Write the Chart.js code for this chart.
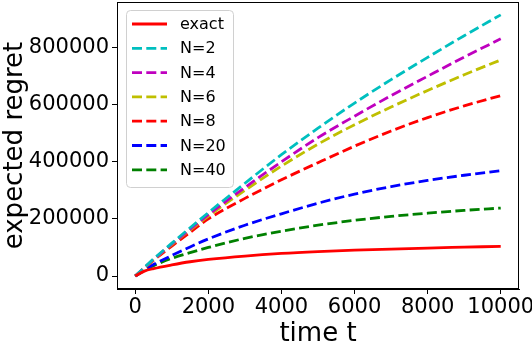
<!DOCTYPE html>
<html>
<head>
<meta charset="utf-8">
<script src="https://cdn.jsdelivr.net/npm/chart.js@4"></script>
<style>
  html, body { margin: 0; padding: 0; background: #fff; }
  canvas { display: block; }
</style>
</head>
<body>
<canvas id="chart" width="532" height="346"></canvas>
<script>
// ---- data ----
const times  = [0, 250, 500, 1000, 1500, 2000, 3000, 4000, 5000, 6000, 7000, 8000, 9000, 10000];
const exact  = [0, 17000, 26000, 39000, 50000, 58000, 70000, 79000, 85500, 90500, 94500, 98000, 101000, 104000];
const regN2  = [0, 30000, 60000, 115000, 169000, 222000, 325000, 425000, 518000, 606000, 688000, 766000, 842000, 915000];
const regN4  = [0, 29500, 58000, 112000, 164000, 215000, 310000, 400000, 485000, 560000, 632000, 700000, 767000, 831000];
const regN6  = [0, 29000, 57000, 110000, 161000, 210000, 300000, 385000, 462000, 530000, 592000, 650000, 705000, 757000];
const regN8  = [0, 28000, 55000, 105000, 153000, 200000, 272000, 337000, 397000, 455000, 508000, 555000, 596000, 632000];
const regN20 = [0, 21000, 40000, 72000, 102000, 130000, 178000, 218000, 255000, 287000, 313000, 335000, 353000, 369000];
const regN40 = [0, 19000, 36000, 62000, 82000, 100000, 132000, 157000, 178000, 195000, 209000, 220000, 230000, 238000];
const xTicks = [0, 2000, 4000, 6000, 8000, 10000];
const yTicks = [0, 200000, 400000, 600000, 800000];

const FONT = "'DejaVu Sans', sans-serif";

function series(label, values, color, dashed) {
  return {
    label,
    data: times.map((t, i) => ({ x: t, y: values[i] })),
    borderColor: color,
    backgroundColor: color,
    borderWidth: 2.8,
    borderDash: dashed ? [10, 4.3] : [],
    pointRadius: 0,
    fill: false,
    cubicInterpolationMode: 'monotone'
  };
}

// ---- legend boxed inside the axes, matplotlib style ----
const boxLegend = {
  id: 'boxLegend',
  afterDraw(chart) {
    const { ctx, chartArea } = chart;
    const x = chartArea.left + 9, y = chartArea.top + 8;
    const w = 107, h = 177, r = 4;
    ctx.save();
    ctx.beginPath();
    ctx.roundRect(x + 0.5, y + 0.5, w, h, r);
    ctx.fillStyle = 'rgba(255,255,255,0.8)';
    ctx.fill();
    ctx.strokeStyle = '#d0d0d0';
    ctx.lineWidth = 1;
    ctx.stroke();
    ctx.font = '16px ' + FONT;
    ctx.textBaseline = 'middle';
    chart.data.datasets.forEach((ds, i) => {
      const cy = y + 14 + i * 24.3;
      ctx.beginPath();
      ctx.setLineDash(ds.borderDash);
      ctx.strokeStyle = ds.borderColor;
      ctx.lineWidth = ds.borderWidth;
      ctx.moveTo(x + 6, cy);
      ctx.lineTo(x + 41, cy);
      ctx.stroke();
      ctx.setLineDash([]);
      ctx.fillStyle = '#000';
      ctx.fillText(ds.label, x + 54, cy + 1);
    });
    ctx.restore();
  }
};

// ---- full frame round the plot ----
const frame = {
  id: 'frame',
  afterDatasetsDraw(chart) {
    const { ctx, chartArea: a } = chart;
    ctx.save();
    ctx.strokeStyle = '#000';
    ctx.lineWidth = 1;
    ctx.strokeRect(Math.round(a.left) + 0.5, Math.round(a.top) + 0.5,
                   Math.round(a.right - a.left) - 1, Math.round(a.bottom - a.top) - 1);
    ctx.restore();
  }
};

new Chart(document.getElementById('chart'), {
  type: 'line',
  data: {
    datasets: [
      series('exact', exact, '#ff0000', false),
      series('N=2', regN2, '#00bfbf', true),
      series('N=4', regN4, '#bf00bf', true),
      series('N=6', regN6, '#bfbf00', true),
      series('N=8', regN8, '#ff0000', true),
      series('N=20', regN20, '#0000ff', true),
      series('N=40', regN40, '#008000', true)
    ]
  },
  options: {
    responsive: false,
    animation: false,
    devicePixelRatio: 1,
    layout: { padding: { top: 2, right: 13, left: 0, bottom: 0 } },
    plugins: { legend: { display: false }, tooltip: { enabled: false } },
    scales: {
      x: {
        type: 'linear',
        min: -500,
        max: 10500,
        afterBuildTicks: s => { s.ticks = xTicks.map(v => ({ value: v })); },
        afterFit: s => { s.height = 57; s.paddingLeft = 0; s.paddingRight = 0; },
        grid: { drawOnChartArea: false, drawTicks: true, tickLength: 5, color: '#000' },
        border: { display: true, color: '#000', width: 1 },
        ticks: { color: '#000', font: { family: FONT, size: 21 }, padding: 1, maxRotation: 0,
                 callback: v => String(v) },
        title: { display: true, text: 'time t', color: '#000',
                 font: { family: FONT, size: 26, lineHeight: 0.9 }, padding: { top: 0, bottom: 0 } }
      },
      y: {
        type: 'linear',
        min: -45500,
        max: 960000,
        afterBuildTicks: s => { s.ticks = yTicks.map(v => ({ value: v })); },
        afterFit: s => { s.width = 117; s.paddingTop = 0; s.paddingBottom = 0; },
        grid: { drawOnChartArea: false, drawTicks: true, tickLength: 5, color: '#000' },
        border: { display: true, color: '#000', width: 1 },
        ticks: { color: '#000', font: { family: FONT, size: 21 }, padding: 3,
                 callback: v => String(v) },
        title: { display: true, text: 'expected regret', color: '#000',
                 font: { family: FONT, size: 26 }, padding: { top: 0, bottom: 0 } }
      }
    }
  },
  plugins: [frame, boxLegend]
});
</script>
</body>
</html>
